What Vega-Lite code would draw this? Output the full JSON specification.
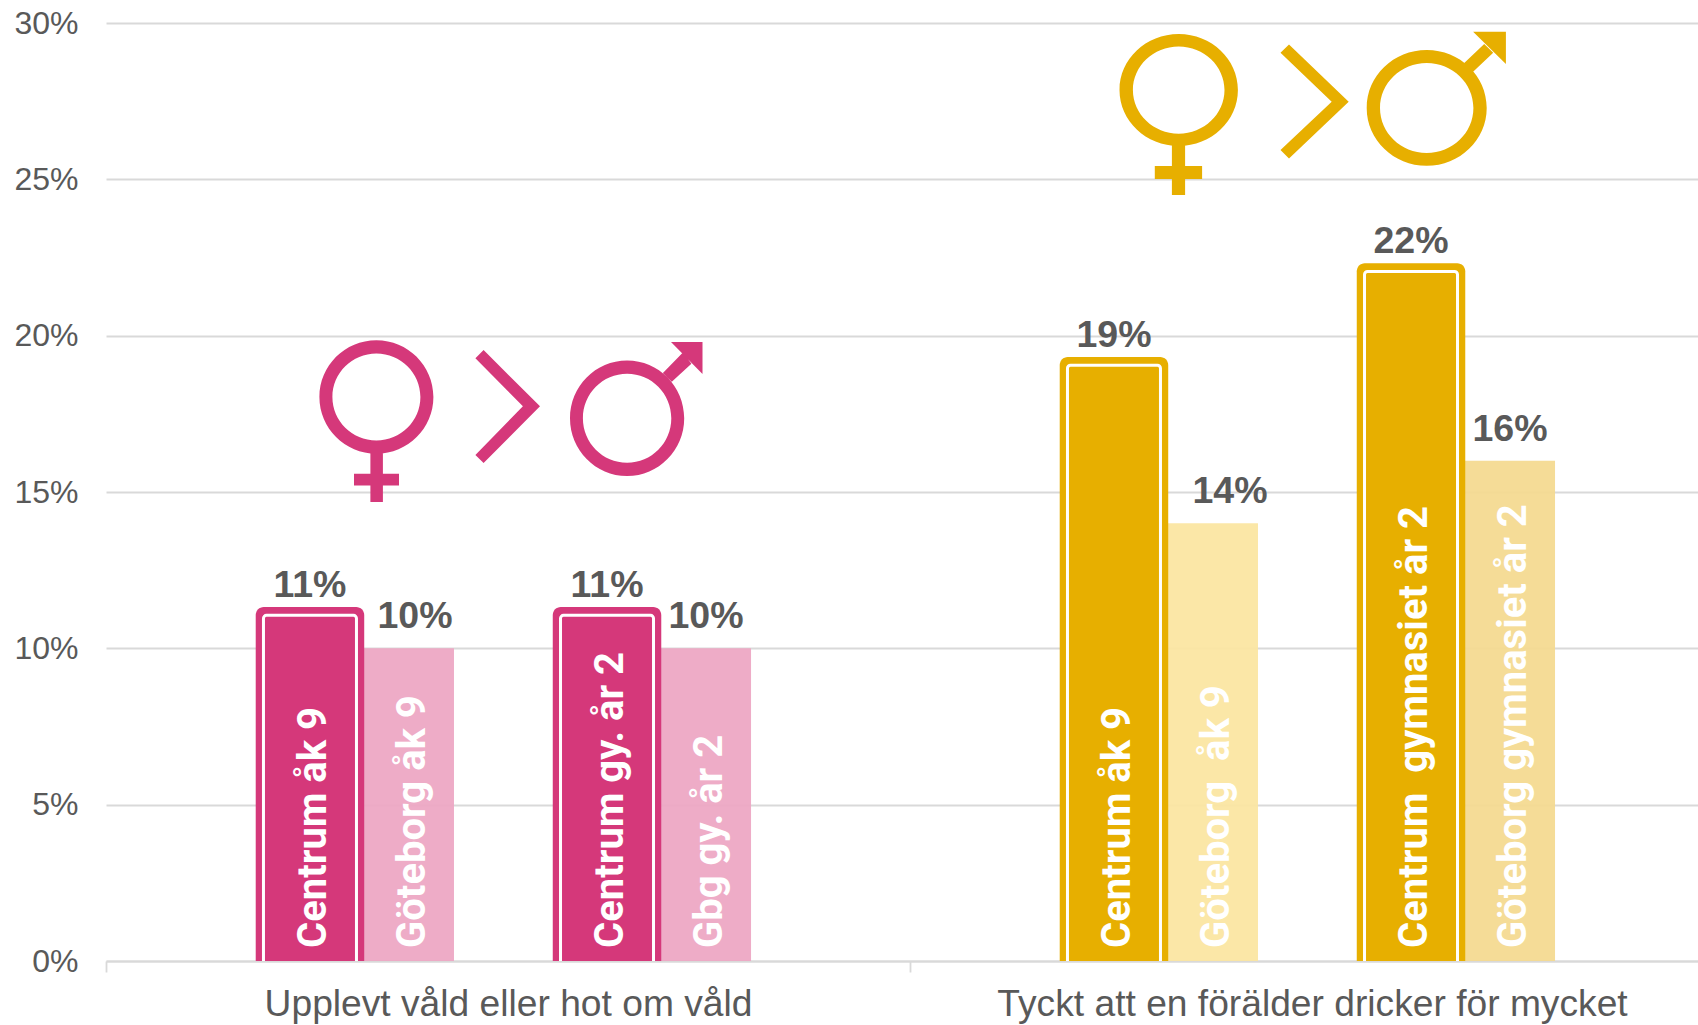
{
"$schema":"https://vega.github.io/schema/vega-lite/v6.json",
"width":1592,"height":938,
"autosize":"none",
"padding":{"left":106,"top":23,"right":0,"bottom":64},
"background":"white",
"config":{"view":{"stroke":null},"font":"Liberation Sans"},
"datasets":{
"bars":[
{"category":"Upplevt våld eller hot om våld","series":"a","label":"Centrum åk 9","value":0.11,"tone":"pink","kind":"Centrum"},
{"category":"Upplevt våld eller hot om våld","series":"b","label":"Göteborg åk 9","value":0.10,"tone":"pink light","kind":"Göteborg"},
{"category":"Upplevt våld eller hot om våld","series":"c","label":"Centrum gy. år 2","value":0.11,"tone":"pink","kind":"Centrum"},
{"category":"Upplevt våld eller hot om våld","series":"d","label":"Gbg gy. år 2","value":0.10,"tone":"pink light","kind":"Göteborg"},
{"category":"Tyckt att en förälder dricker för mycket","series":"a","label":"Centrum åk 9","value":0.19,"tone":"yellow","kind":"Centrum"},
{"category":"Tyckt att en förälder dricker för mycket","series":"b","label":"Göteborg\u00a0 åk 9","value":0.14,"tone":"yellow light","kind":"Göteborg"},
{"category":"Tyckt att en förälder dricker för mycket","series":"c","label":"Centrum\u00a0 gymnasiet år 2","value":0.22,"tone":"yellow","kind":"Centrum"},
{"category":"Tyckt att en förälder dricker för mycket","series":"d","label":"Göteborg gymnasiet år 2","value":0.16,"tone":"yellow mid","kind":"Göteborg"}
],
"symbols":[
{"category":"Upplevt våld eller hot om våld","at":0.17},
{"category":"Tyckt att en förälder dricker för mycket","at":0.27}
]
},
"data":{"name":"bars"},
"encoding":{
"x":{"field":"category","type":"nominal","sort":["Upplevt våld eller hot om våld","Tyckt att en förälder dricker för mycket"],
"scale":{"range":[0,1608],"paddingInner":0,"paddingOuter":0},
"axis":{"title":null,"labelAngle":0,"labelLimit":900,"tickBand":"extent","tickColor":"#D9D9D9","tickWidth":1.8,"tickSize":11,"domainColor":"#D9D9D9","domainWidth":1.8,"labelFontSize":37.2,"labelColor":"#595959","labelPadding":14,"labelBaseline":"top","encoding":{"labels":{"dx":{"signal":"datum.value==='Tyckt att en förälder dricker för mycket' ? -5.5 : 0"}}}}},
"xOffset":{"field":"series","type":"nominal","scale":{"domain":["pad1","a","b","gap","c","d","pad2"],"paddingInner":0,"paddingOuter":0.56}},
"y":{"field":"value","type":"quantitative","scale":{"domain":[0,0.3]},
"axis":{"title":null,"values":[0,0.05,0.1,0.15,0.2,0.25,0.3],"format":".0%","domain":false,"ticks":false,"grid":true,"gridColor":"#D9D9D9","gridWidth":1.8,"labelFontSize":32,"labelColor":"#595959","labelPadding":28}},
"color":{"field":"tone","type":"nominal","legend":null,"scale":{"domain":["pink","pink light","yellow","yellow light","yellow mid"],"range":["#D5387A","#EDA6C3","#E7AF00","#FBE5A0","#F4D98F"]}}
},
"layer":[
{"transform":[{"filter":"datum.kind==='Göteborg'"}],"mark":{"type":"bar","width":90,"opacity":0.93}},
{"transform":[{"filter":"datum.kind==='Centrum'"}],"mark":{"type":"bar","width":108.5,"clip":true,"yOffset":-10,"cornerRadiusTopLeft":8,"cornerRadiusTopRight":8},"encoding":{"y2":{"datum":-0.02}}},
{"transform":[{"filter":"datum.kind==='Centrum'"}],"mark":{"type":"bar","width":93,"clip":true,"yOffset":-1.7,"stroke":"white","strokeWidth":3,"cornerRadiusTopLeft":3,"cornerRadiusTopRight":3},"encoding":{"y2":{"datum":-0.02}}},
{"mark":{"type":"text","angle":270,"align":"left","baseline":"middle","fontWeight":"bold","fontSize":40,"font":"Roboto","dx":13,"dy":4,"color":"white"},"encoding":{"y":{"datum":0},"text":{"field":"label"},"color":{"value":"white"}}},
{"transform":[{"filter":"datum.label!=='Göteborg åk 9' && datum.value!==0.14"}],"mark":{"type":"text","baseline":"alphabetic","fontWeight":"bold","fontSize":37.5,"dy":-20},"encoding":{"text":{"field":"value","type":"quantitative","format":".0%"},"color":{"value":"#595959"}}},
{"transform":[{"filter":"datum.label==='Göteborg åk 9'"}],"mark":{"type":"text","baseline":"alphabetic","fontWeight":"bold","fontSize":37.5,"dy":-20,"dx":6},"encoding":{"text":{"field":"value","type":"quantitative","format":".0%"},"color":{"value":"#595959"}}},
{"transform":[{"filter":"datum.value===0.14"}],"mark":{"type":"text","baseline":"alphabetic","fontWeight":"bold","fontSize":37.5,"dy":-20,"dx":17},"encoding":{"text":{"field":"value","type":"quantitative","format":".0%"},"color":{"value":"#595959"}}},
{"data":{"name":"symbols"},"transform":[{"filter":"datum.at<0.2"}],"mark":{"type":"point","filled":true,"size":4,"opacity":1,"color":"#D5387A","shape":"M-188.6,-32.5A57,56.7 0 1 1 -74.6,-32.5A57,56.7 0 1 1 -188.6,-32.5ZM-175.6,-32.5A44,43.5 0 1 0 -87.6,-32.5A44,43.5 0 1 0 -175.6,-32.5ZM-137.6,20.6L-125.1,20.6L-125.1,44.4L-109,44.4L-109,56.1L-125.1,56.1L-125.1,72.6L-137.6,72.6L-137.6,56.1L-154,56.1L-154,44.4L-137.6,44.4ZM-24.4,-79.4L32,-23.1L-24.4,33.6L-32.6,25.5L14.9,-23.1L-32.6,-71.2ZM62,-11.2A57.1,57.8 0 1 1 176.2,-11.2A57.1,57.8 0 1 1 62,-11.2ZM74.9,-11.2A44.2,44.5 0 1 0 163.3,-11.2A44.2,44.5 0 1 0 74.9,-11.2ZM154.9,-56.4L174.9,-77L183.4,-65.8L163.8,-47.8ZM163,-87.4L194.5,-87.4L194.5,-55.4Z"},"encoding":{"xOffset":null,"y":{"field":"at","type":"quantitative"},"color":{"value":"#D5387A"}}},
{"data":{"name":"symbols"},"transform":[{"filter":"datum.at>0.2"}],"mark":{"type":"point","filled":true,"size":4,"opacity":1,"color":"#E7AF00","shape":"M-192.5,-26.7A59.2,56 0 1 1 -74.1,-26.7A59.2,56 0 1 1 -192.5,-26.7ZM-179.1,-26.7A45.8,43.6 0 1 0 -87.5,-26.7A45.8,43.6 0 1 0 -179.1,-26.7ZM-140.1,26.3L-126.9,26.3L-126.9,49.3L-109.9,49.3L-109.9,62.3L-126.9,62.3L-126.9,78.3L-140.1,78.3L-140.1,62.3L-157.2,62.3L-157.2,49.3L-140.1,49.3ZM-23,-72.4L36.7,-15L-23,41.6L-31.5,33.3L19.7,-15L-31.5,-64ZM54.7,-8.9A60,57.8 0 1 1 174.7,-8.9A60,57.8 0 1 1 54.7,-8.9ZM68,-8.9A46.7,45 0 1 0 161.4,-8.9A46.7,45 0 1 0 68,-8.9ZM151.7,-53.4L172.2,-72.7L181.2,-64L161.1,-45ZM161.1,-85L193.9,-85L193.9,-52.7Z"},"encoding":{"xOffset":null,"y":{"field":"at","type":"quantitative"},"color":{"value":"#E7AF00"}}}
]
}
